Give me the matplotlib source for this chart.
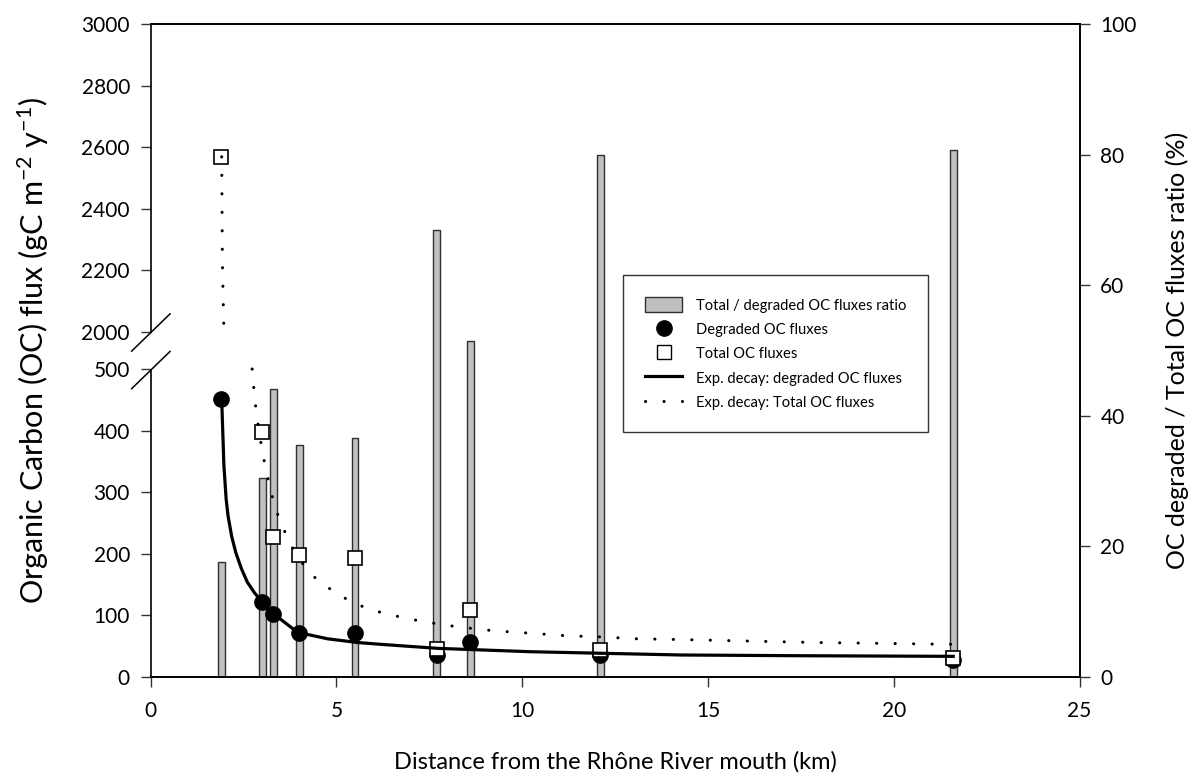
import numpy as np
import matplotlib
matplotlib.use("Agg")
import matplotlib.pyplot as plt
from matplotlib.patches import Patch
from matplotlib.lines import Line2D

plt.rcParams['font.family'] = ['Lato', 'DejaVu Sans']
plt.rcParams['mathtext.fontset'] = 'custom'
plt.rcParams['mathtext.rm'] = 'Lato'
plt.rcParams['mathtext.it'] = 'Lato:italic'

# stations (km from the mouth)
dist = [1.9, 3.0, 3.3, 4.0, 5.5, 7.7, 8.6, 12.1, 21.6]
ratio = [17.6, 30.4, 44.1, 35.5, 36.6, 68.5, 51.5, 80.0, 80.7]      # % (right axis)
degraded = [451, 122, 102, 72, 72, 36, 57, 35, 28]                 # gC m-2 y-1
total = [2569, 397, 228, 198, 193, 45, 108, 44, 31]

# exp. decay fits
fit_deg_x = [1.91, 1.94, 1.97, 2.03, 2.08, 2.18, 2.29, 2.44, 2.60, 2.80, 3.01, 3.32, 3.95,
             4.76, 5.56, 6.19, 7.72, 10.23, 14.27, 17.5, 21.6]
fit_deg_y = [451, 397, 343, 289, 262, 228, 202, 176, 154, 136, 122, 102, 72.5,
             62, 56, 53, 46.5, 41, 35.7, 34.5, 33.5]
fit_tot_hi_x = [1.91, 1.93, 1.97]
fit_tot_hi_y = [2569, 2221, 2000]
fit_tot_lo_x = [2.73, 2.80, 2.86, 2.93, 3.01, 3.11, 3.22, 3.34, 3.53, 3.73, 4.02, 4.44,
                4.94, 5.40, 5.88, 6.37, 7.31, 8.30, 9.24, 10.23, 11.17, 12.13, 13.08,
                14.05, 17.88, 21.6]
fit_tot_lo_y = [500, 451, 422, 393, 364, 334, 306, 276, 247, 219, 189, 160,
                138, 122, 110, 102, 90, 81, 75, 71, 67, 65, 62,
                61, 56, 53]

y_ticks = [0, 100, 200, 300, 400, 500, 2000, 2200, 2400, 2600, 2800, 3000]


# broken y axis: 0-500 and 2000-3000 (upper part compressed x2)
def fwd(y):
    y = np.asarray(y, dtype=float)
    return np.where(y <= 500, y,
                    np.where(y >= 2000, 560 + (y - 2000) / 2.0,
                             500 + (y - 500) * 60 / 1500.0))


def inv(u):
    u = np.asarray(u, dtype=float)
    return np.where(u <= 500, u,
                    np.where(u >= 560, 2000 + (u - 560) * 2.0,
                             500 + (u - 500) * 1500 / 60.0))


fig = plt.figure(figsize=(12, 7.83), dpi=100)
ax = fig.add_axes([0.1256, 0.1354, 0.774, 0.8339])
ax2 = ax.twinx()
ax.set_zorder(ax2.get_zorder() + 1)
ax.patch.set_visible(False)

# bars on right axis
ax2.bar(dist, ratio, width=0.18, color='#c0c0c0', edgecolor='#303030', linewidth=1)
ax2.set_ylim(0, 100)
ax2.set_yticks([0, 20, 40, 60, 80, 100])
ax2.set_ylabel('OC degraded / Total OC fluxes ratio (%)', fontsize=18, labelpad=21)

ax.set_yscale('function', functions=(fwd, inv))
ax.set_ylim(0, 3000)
ax.set_xlim(0, 25)
ax.set_yticks(y_ticks)
ax.set_yticklabels([str(t) for t in y_ticks])
ax.set_xticks([0, 5, 10, 15, 20, 25])

ax.plot(dist, degraded, 'o', color='black', markersize=11, zorder=3)
ax.plot(dist, total, 's', markerfacecolor='white', markeredgecolor='black',
        markeredgewidth=1.2, markersize=10, zorder=4)
ax.plot(fit_deg_x, fit_deg_y, '-', color='black', linewidth=2.3, zorder=5)
dots = (0, (0.05, 6.0))
for xs, ys in [(fit_tot_hi_x, fit_tot_hi_y), (fit_tot_lo_x, fit_tot_lo_y)]:
    ax.plot(xs, ys, color='black', linewidth=2.2, linestyle=dots,
            dash_capstyle='round', zorder=6)

ax.set_xlabel('Distance from the Rhône River mouth (km)', fontsize=17, labelpad=22)
ax.set_ylabel('Organic Carbon (OC) flux (gC m$^{-2}$ y$^{-1}$)', fontsize=22, labelpad=22)

for a in (ax, ax2):
    a.tick_params(direction='out', length=7, width=1, labelsize=15, color='#333333')
    for s in a.spines.values():
        s.set_linewidth(1.2)
ax.tick_params(axis='x', pad=10)
ax2.tick_params(axis='y', pad=8)
ax.tick_params(axis='y', pad=8)

# axis break on the left spine
ax.spines['left'].set_visible(False)
ax2.spines['left'].set_visible(False)
y_lo, y_hi = 0.4701, 0.5276
ax.plot([0, 0], [0, y_lo], color='black', lw=1.2, transform=ax.transAxes, clip_on=False)
ax.plot([0, 0], [y_hi, 1], color='black', lw=1.2, transform=ax.transAxes, clip_on=False)
for yb in (y_lo, y_hi):
    ax.plot([-0.0205, 0.0208], [yb - 0.0285, yb + 0.0285], color='black', lw=1.1,
            transform=ax.transAxes, clip_on=False)

handles = [Patch(facecolor='#c0c0c0', edgecolor='#303030'),
           Line2D([], [], marker='o', color='black', linestyle='none', markersize=11),
           Line2D([], [], marker='s', markerfacecolor='white', markeredgecolor='black',
                  linestyle='none', markersize=10),
           Line2D([], [], color='black', linewidth=2.3),
           Line2D([], [], color='black', linewidth=2.2, linestyle=dots, dash_capstyle='round')]
labels = ['Total / degraded OC fluxes ratio', 'Degraded OC fluxes', 'Total OC fluxes',
          'Exp. decay: degraded OC fluxes', 'Exp. decay: Total OC fluxes']
leg = ax.legend(handles, labels, loc='upper left', bbox_to_anchor=(0.5085, 0.6156),
                borderaxespad=0, fontsize=10.6, frameon=True, fancybox=False,
                edgecolor='black', borderpad=1.5, labelspacing=0.6,
                handlelength=2.5, handletextpad=0.95, handleheight=1.2)
leg.get_frame().set_linewidth(1)

fig.savefig('out.png', dpi=100)
